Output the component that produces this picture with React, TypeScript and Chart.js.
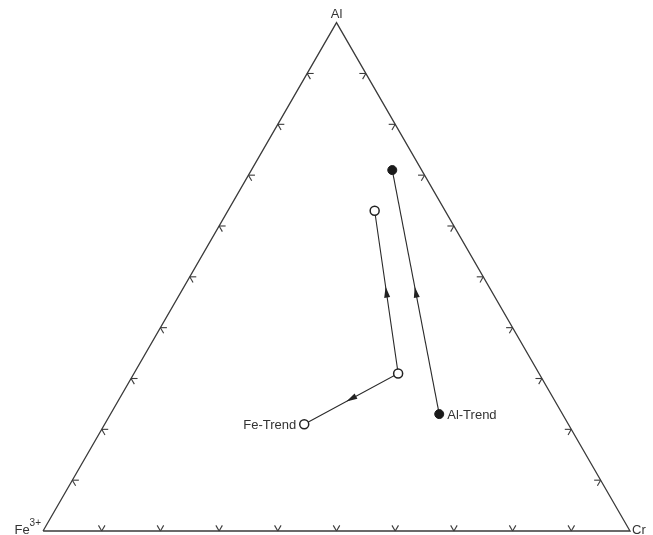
import React, { useEffect, useRef } from "react";
import { Chart, registerables } from "chart.js";

Chart.register(...registerables);

// Ternary compositions in percent (Al, Cr, Fe3+ = 100 - Al - Cr)
const corners = ["Fe3+", "Cr", "Al"];
const tickPercents = [10, 20, 30, 40, 50, 60, 70, 80, 90];

// Fe-Trend: top open circle, middle open circle, end (labelled) open circle
const feTrendAl = [63, 31, 21];
const feTrendCr = [25, 45, 34];
const feArrowSegments = [
  [1, 0],
  [1, 2],
];

// Al-Trend: start (labelled) filled circle, end filled circle
const alTrendAl = [23, 71];
const alTrendCr = [56, 24];
const alArrowSegments = [[0, 1]];

const trendLabels = ["Fe-Trend", "Al-Trend"];

const S3 = Math.sqrt(3) / 2;
const toXY = (al: number, cr: number) => ({ x: cr / 100 + al / 200, y: (al / 100) * S3 });

const FONT = '"Liberation Sans", Arial, sans-serif';
const INK = "#333333";

export default function App() {
  const ref = useRef<HTMLCanvasElement | null>(null);

  useEffect(() => {
    if (!ref.current) return;
    const fePts = feTrendAl.map((a, i) => toXY(a, feTrendCr[i]));
    const alPts = alTrendAl.map((a, i) => toXY(a, alTrendCr[i]));
    const tri = [toXY(0, 0), toXY(0, 100), toXY(100, 0), toXY(0, 0)];

    const overlay = {
      id: "ternaryOverlay",
      afterDatasetsDraw(chart: any) {
        const ctx = chart.ctx as CanvasRenderingContext2D;
        const xs = chart.scales.x;
        const ys = chart.scales.y;
        const P = (p: { x: number; y: number }) => ({ x: xs.getPixelForValue(p.x), y: ys.getPixelForValue(p.y) });
        ctx.save();
        // ticks: stubs of the two grid lines entering the triangle
        ctx.strokeStyle = "#3a3a3a";
        ctx.lineWidth = 1.1;
        const L = 6.5;
        const stub = (p: { x: number; y: number }, angs: number[]) => {
          angs.forEach((deg) => {
            const r = (deg * Math.PI) / 180;
            ctx.beginPath();
            ctx.moveTo(p.x, p.y);
            ctx.lineTo(p.x + L * Math.cos(r), p.y - L * Math.sin(r));
            ctx.stroke();
          });
        };
        tickPercents.forEach((t) => {
          // bottom edge (Al = 0)
          stub(P(toXY(0, t)), [60, 120]);
          // left edge (Cr = 0)
          stub(P(toXY(t, 0)), [0, -60]);
          // right edge (Fe = 0)
          stub(P(toXY(t, 100 - t)), [180, 240]);
        });

        // arrows
        ctx.fillStyle = "#222";
        const arrow = (a: { x: number; y: number }, b: { x: number; y: number }) => {
          const pa = P(a), pb = P(b);
          const mx = (pa.x + pb.x) / 2, my = (pa.y + pb.y) / 2;
          const ang = Math.atan2(pb.y - pa.y, pb.x - pa.x);
          const len = 11, w = 3;
          const tx = mx + (len / 2) * Math.cos(ang), ty = my + (len / 2) * Math.sin(ang);
          const bx = mx - (len / 2) * Math.cos(ang), by = my - (len / 2) * Math.sin(ang);
          ctx.beginPath();
          ctx.moveTo(tx, ty);
          ctx.lineTo(bx - w * Math.sin(ang), by + w * Math.cos(ang));
          ctx.lineTo(bx + w * Math.sin(ang), by - w * Math.cos(ang));
          ctx.closePath();
          ctx.fill();
        };
        feArrowSegments.forEach(([i, j]) => arrow(fePts[i], fePts[j]));
        alArrowSegments.forEach(([i, j]) => arrow(alPts[i], alPts[j]));

        // text
        ctx.fillStyle = INK;
        ctx.font = `13px ${FONT}`;
        ctx.textBaseline = "middle";
        const fe = P(fePts[2]);
        ctx.textAlign = "right";
        ctx.fillText(trendLabels[0], fe.x - 8, fe.y + 1);
        const al = P(alPts[0]);
        ctx.textAlign = "left";
        ctx.fillText(trendLabels[1], al.x + 8, al.y + 1);

        // corner labels
        const cAl = P(tri[2]);
        ctx.textAlign = "center";
        ctx.textBaseline = "alphabetic";
        ctx.fillText(corners[2], cAl.x, cAl.y - 5);
        const cCr = P(tri[1]);
        ctx.textAlign = "left";
        ctx.fillText(corners[1], cCr.x + 2, cCr.y + 3);
        const cFe = P(tri[0]);
        ctx.textAlign = "right";
        ctx.font = `10px ${FONT}`;
        ctx.fillText("3+", cFe.x - 2, cFe.y - 5);
        const w3 = ctx.measureText("3+").width;
        ctx.font = `13px ${FONT}`;
        ctx.fillText("Fe", cFe.x - 2 - w3, cFe.y + 3);
        ctx.restore();
      },
    };

    const chart = new Chart(ref.current, {
      type: "scatter",
      data: {
        datasets: [
          {
            label: "frame",
            data: tri,
            showLine: true,
            borderColor: "#3a3a3a",
            borderWidth: 1.3,
            pointRadius: 0,
            fill: false,
          },
          {
            label: trendLabels[0],
            data: fePts,
            showLine: true,
            borderColor: "#2a2a2a",
            borderWidth: 1.1,
            pointRadius: 4.5,
            pointBackgroundColor: "#ffffff",
            pointBorderColor: "#222",
            pointBorderWidth: 1.5,
          },
          {
            label: trendLabels[1],
            data: alPts,
            showLine: true,
            borderColor: "#2a2a2a",
            borderWidth: 1.1,
            pointRadius: 4.5,
            pointBackgroundColor: "#1a1a1a",
            pointBorderColor: "#1a1a1a",
            pointBorderWidth: 1,
          },
        ],
      },
      options: {
        animation: false,
        responsive: true,
        maintainAspectRatio: false,
        layout: { padding: 0, autoPadding: false },
        plugins: { legend: { display: false }, tooltip: { enabled: false } },
        scales: {
          x: { type: "linear", display: false, min: -0.0733, max: 1.0392 },
          y: { type: "linear", display: false, min: -0.0068, max: 0.9046 },
        },
      },
      plugins: [overlay],
    });
    return () => chart.destroy();
  }, []);

  return (
    <div style={{ position: "absolute", left: 0, top: 0, width: 653, height: 535, background: "#fff" }}>
      <canvas ref={ref} />
    </div>
  );
}
